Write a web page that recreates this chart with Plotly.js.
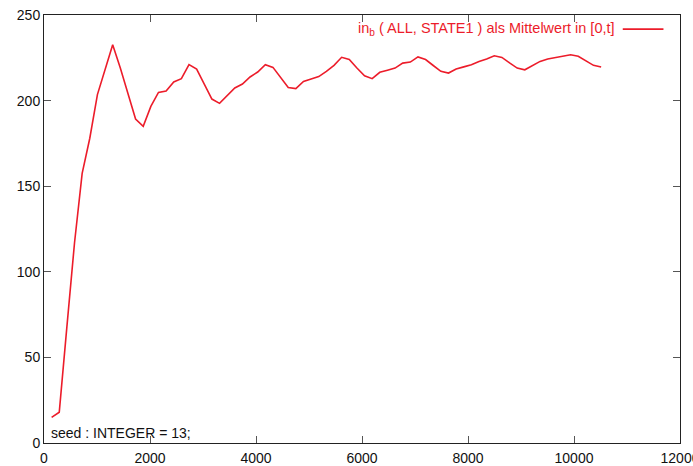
<!DOCTYPE html>
<html>
<head>
<meta charset="utf-8">
<script src="https://cdn.plot.ly/plotly-3.0.1.min.js"></script>
<style>html,body{margin:0;padding:0;background:#fff}#chart{width:693px;height:466px}</style>
</head>
<body>
<div id="chart"></div>
<script>
var timeValues = [144,288,432,576,720,864,1008,1152,1296,1440,1584,1728,1872,2016,2160,2304,2448,2592,2736,2880,3024,3168,3312,3456,3600,3744,3888,4032,4176,4320,4464,4608,4752,4896,5040,5184,5328,5472,5616,5760,5904,6048,6192,6336,6480,6624,6768,6912,7056,7200,7344,7488,7632,7776,7920,8064,8208,8352,8496,8640,8784,8928,9072,9216,9360,9504,9648,9792,9936,10080,10224,10368,10512];
var meanValues = [15,18,68,117,157.5,178,203.5,218.5,232.6,219,204,189.2,185,196.6,204.8,205.6,210.9,212.8,221,218.4,209.6,200.9,198.4,203,207.4,209.7,213.8,216.7,221,219.4,213.5,207.7,207,211.2,212.6,214,217.1,220.6,225.3,224,219,214.5,212.8,216.5,217.7,219,221.9,222.5,225.5,224,220.5,217.1,216.1,218.4,219.7,221,222.9,224.3,226.2,225.2,222,219,218,220.5,222.9,224.3,225.1,225.9,226.8,225.9,223.3,220.6,219.6];
var xTicks = [0,2000,4000,6000,8000,10000,12000];
var yTicks = [0,50,100,150,200,250];
var seriesName = 'in<sub>b</sub> ( ALL, STATE1 ) als Mittelwert in [0,t]';
var noteText = 'seed : INTEGER = 13;';

var red = '#ec1c2a';
var fontFam = 'Liberation Sans, Arial, sans-serif';
var trace = {
  x: timeValues, y: meanValues, type: 'scatter', mode: 'lines',
  line: {color: red, width: 1.6}, name: seriesName, showlegend: false
};
var axisCommon = {
  showline: true, mirror: 'ticks', linecolor: '#222', linewidth: 1,
  ticks: 'inside', ticklen: 7, tickcolor: '#555', tickwidth: 1,
  showgrid: false, zeroline: false, ticklabeloverflow: 'allow',
  tickfont: {family: fontFam, size: 14, color: '#111'}
};
var layout = {
  width: 693, height: 466,
  margin: {l: 44, r: 13, t: 15, b: 23},
  paper_bgcolor: '#fff', plot_bgcolor: '#fff',
  xaxis: Object.assign({}, axisCommon, {range: [0, 12000], tickvals: xTicks, ticktext: xTicks.map(String), ticklabelstandoff: 2}),
  yaxis: Object.assign({}, axisCommon, {range: [0, 250], tickvals: yTicks, ticktext: yTicks.map(String)}),
  annotations: [
    {xref: 'paper', yref: 'paper', x: 0.491, y: 0.968, xanchor: 'left', yanchor: 'middle',
     text: seriesName, showarrow: false,
     font: {family: fontFam, size: 14.5, color: red}},
    {xref: 'paper', yref: 'paper', x: 0.008, y: 0.0, xanchor: 'left', yanchor: 'bottom',
     text: noteText, showarrow: false,
     font: {family: fontFam, size: 14, color: '#111'}}
  ],
  shapes: [
    {type: 'line', xref: 'paper', yref: 'paper', x0: 0.91, x1: 0.974, y0: 0.967, y1: 0.967,
     line: {color: red, width: 1.6}}
  ]
};
Plotly.newPlot('chart', [trace], layout, {staticPlot: true, displayModeBar: false});
</script>
</body>
</html>
